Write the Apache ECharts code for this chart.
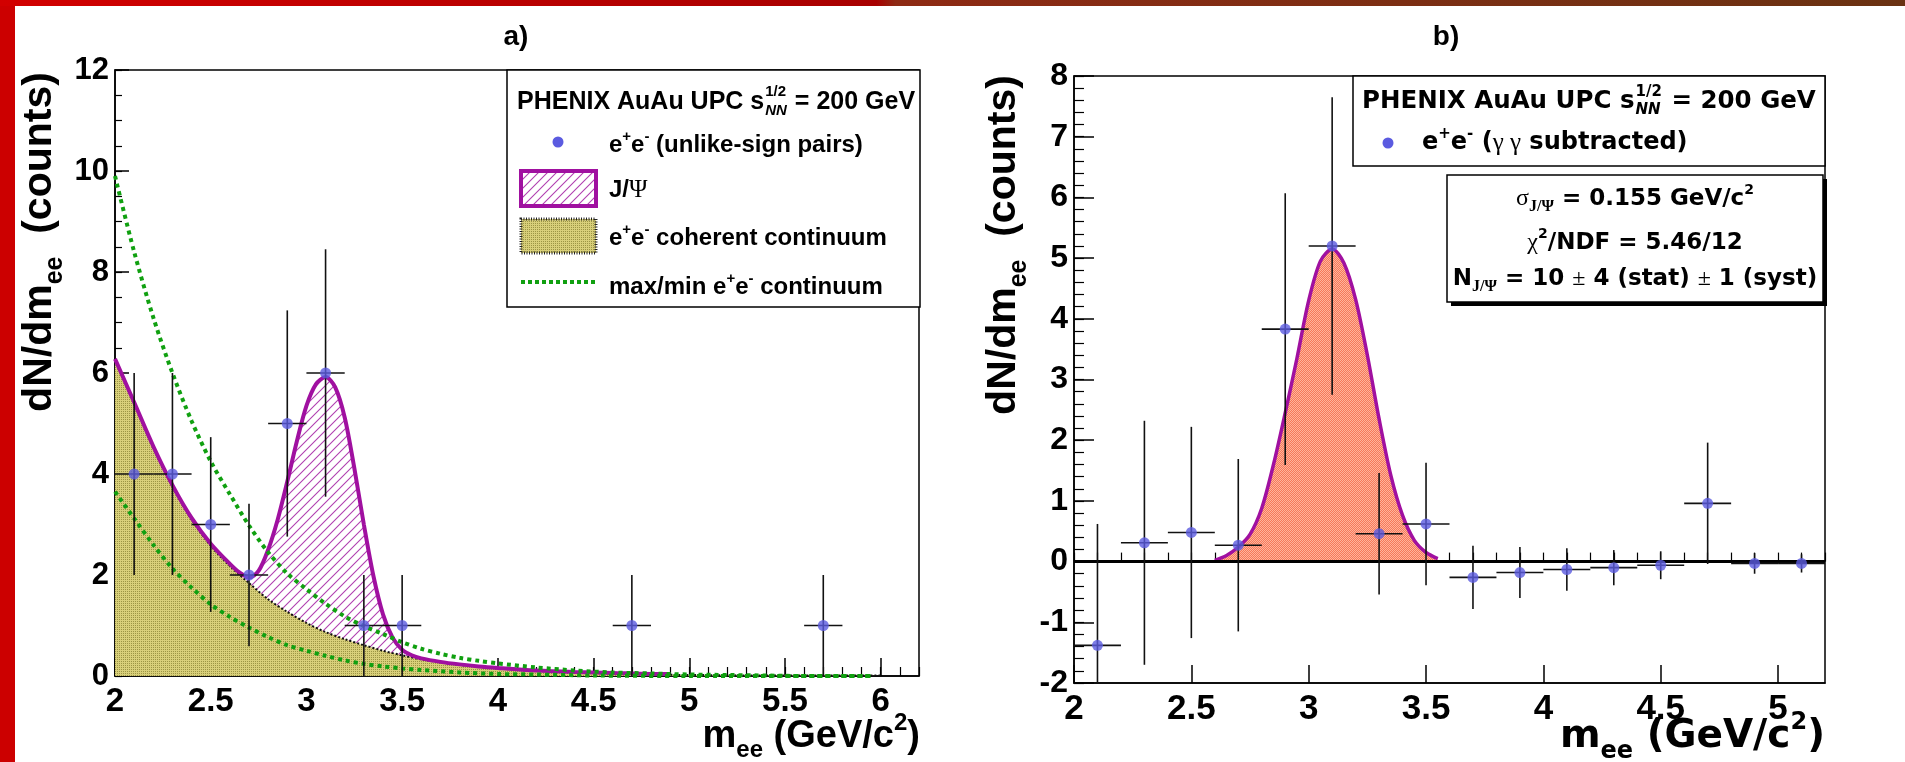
<!DOCTYPE html>
<html>
<head>
<meta charset="utf-8">
<style>
html, body { margin: 0; padding: 0; background: #fff; }
#chart { width: 1905px; height: 762px; }
</style>
<script src="https://cdn.jsdelivr.net/npm/echarts@6/dist/echarts.min.js"></script>
</head>
<body>
<div id="chart"></div>
<script>
// ---- panel a) : unlike-sign e+e- pairs ----
var aBins = [2.1, 2.3, 2.5, 2.7, 2.9, 3.1, 3.3, 3.5, 4.7, 5.7];
var aCounts = [4, 4, 3, 2, 5, 6, 1, 1, 1, 1];
var aErrors = [2, 2, 1.73, 1.41, 2.24, 2.45, 1, 1, 1, 1];

// coherent continuum
var contX = [2.0, 2.1, 2.2, 2.3, 2.4, 2.5, 2.6, 2.7, 2.8, 2.9, 3.0, 3.1, 3.2, 3.3, 3.4, 3.5, 3.6, 3.7, 3.8, 3.9, 4.0, 4.2, 4.4, 4.6, 4.8, 5.0, 5.4, 5.8, 6.0];
var contY = [6.26, 5.40, 4.52, 3.75, 3.10, 2.58, 2.18, 1.84, 1.52, 1.27, 1.05, 0.87, 0.73, 0.61, 0.50, 0.41, 0.33, 0.27, 0.22, 0.18, 0.15, 0.10, 0.07, 0.05, 0.03, 0.02, 0.01, 0.01, 0.01];

// J/psi + continuum
var jpsiX = [2.0, 2.1, 2.2, 2.3, 2.4, 2.5, 2.6, 2.65, 2.7, 2.75, 2.8, 2.85, 2.9, 2.95, 3.0, 3.05, 3.1, 3.15, 3.2, 3.25, 3.3, 3.35, 3.4, 3.45, 3.5, 3.55, 3.6, 3.7, 3.8, 3.9, 4.0, 4.2, 4.4, 4.6, 4.8, 4.9];
var jpsiY = [6.28, 5.42, 4.55, 3.78, 3.13, 2.62, 2.22, 2.05, 1.95, 2.08, 2.50, 3.10, 3.85, 4.65, 5.35, 5.78, 5.92, 5.72, 5.12, 4.12, 3.00, 1.98, 1.22, 0.76, 0.52, 0.41, 0.35, 0.28, 0.23, 0.19, 0.16, 0.11, 0.08, 0.06, 0.04, 0.04];

// max / min continuum
var maxX = [2.0, 2.1, 2.2, 2.3, 2.4, 2.5, 2.6, 2.7, 2.8, 2.9, 3.0, 3.1, 3.2, 3.3, 3.4, 3.5, 3.6, 3.7, 3.8, 3.9, 4.0, 4.2, 4.4, 4.6, 4.8, 5.0, 5.2, 5.4, 5.6, 5.95];
var maxY = [9.9, 8.4, 7.1, 6.0, 5.05, 4.25, 3.6, 2.98, 2.45, 2.03, 1.72, 1.43, 1.18, 0.99, 0.83, 0.67, 0.54, 0.44, 0.36, 0.30, 0.25, 0.17, 0.11, 0.07, 0.05, 0.03, 0.02, 0.01, 0.0, 0.0];
var minX = [2.0, 2.1, 2.2, 2.3, 2.4, 2.5, 2.6, 2.7, 2.8, 2.9, 3.0, 3.1, 3.2, 3.3, 3.4, 3.5, 3.6, 3.8, 4.0, 4.2, 4.5, 5.0, 5.95];
var minY = [3.65, 3.12, 2.60, 2.13, 1.75, 1.42, 1.17, 0.96, 0.77, 0.61, 0.50, 0.40, 0.31, 0.24, 0.19, 0.15, 0.12, 0.07, 0.04, 0.03, 0.01, 0.0, 0.0];

// ---- panel b) : gamma gamma subtracted ----
var bBins = [2.1, 2.3, 2.5, 2.7, 2.9, 3.1, 3.3, 3.5, 3.7, 3.9, 4.1, 4.3, 4.5, 4.7, 4.9, 5.1];
var bValues = [-1.38, 0.31, 0.48, 0.27, 3.83, 5.20, 0.46, 0.62, -0.26, -0.18, -0.13, -0.10, -0.06, 0.96, -0.03, -0.03];
var bErrors = [2.0, 2.01, 1.74, 1.42, 2.24, 2.45, 1.0, 1.01, 0.52, 0.42, 0.35, 0.29, 0.23, 1.0, 0.17, 0.15];

// gaussian fit
var gausX = [2.60, 2.65, 2.70, 2.75, 2.80, 2.85, 2.90, 2.95, 3.00, 3.05, 3.10, 3.15, 3.20, 3.25, 3.30, 3.35, 3.40, 3.45, 3.50, 3.55];
var gausY = [0.02, 0.10, 0.24, 0.45, 0.88, 1.60, 2.45, 3.35, 4.30, 4.95, 5.15, 4.92, 4.32, 3.40, 2.35, 1.42, 0.76, 0.35, 0.15, 0.05];

var binHalf = 0.1;

var SANS = 'Liberation Sans', WIDE = 'DejaVu Sans', SERIF = 'Liberation Serif';
var BLUE = '#5b5be0', PURPLE = '#a010a0', GREEN = '#10a010';

function zip(xs, ys) {
  return xs.map(function (x, i) { return [x, ys[i]]; });
}
function zip3(xs, ys, es) {
  return xs.map(function (x, i) { return [x, ys[i], es[i]]; });
}

// fill textures
function makePattern(w, h, draw) {
  var c = document.createElement('canvas');
  c.width = w; c.height = h;
  draw(c.getContext('2d'));
  return { image: c, repeat: 'repeat' };
}
var olivePattern = makePattern(2, 2, function (g) {
  g.fillStyle = '#d8cf7a'; g.fillRect(0, 0, 2, 2);
  g.fillStyle = '#9c9544'; g.fillRect(1, 1, 1, 1);
});
var salmonPattern = makePattern(2, 2, function (g) {
  g.fillStyle = '#f6795a'; g.fillRect(0, 0, 2, 2);
  g.fillStyle = '#ffb49c'; g.fillRect(0, 0, 1, 1); g.fillRect(1, 1, 1, 1);
});
var hatchPattern = makePattern(9, 9, function (g) {
  g.fillStyle = '#fff'; g.fillRect(0, 0, 9, 9);
  g.strokeStyle = '#b040b0'; g.lineWidth = 1.1;
  g.beginPath();
  g.moveTo(-1, 10); g.lineTo(10, -1);
  g.moveTo(-1, 1); g.lineTo(1, -1);
  g.moveTo(8, 10); g.lineTo(10, 8);
  g.stroke();
});

// axes: one axis for major ticks + labels, one for minor ticks
function xMajor(grid, max, size) {
  return {
    type: 'value', gridIndex: grid, position: 'bottom', min: 2, max: max, interval: 0.5,
    axisLine: { show: true, onZero: false, lineStyle: { color: '#000', width: 1.5 } },
    axisTick: { show: true, inside: true, length: 18, lineStyle: { color: '#000', width: 1.5 } },
    axisLabel: { show: true, margin: 9, showMaxLabel: false, color: '#000', fontFamily: SANS, fontWeight: 'bold', fontSize: size },
    splitLine: { show: false }
  };
}
function xMinor(grid, max) {
  return {
    type: 'value', gridIndex: grid, position: 'bottom', min: 2, max: max, interval: 0.1,
    axisLine: { show: false }, axisLabel: { show: false }, splitLine: { show: false },
    axisTick: { show: true, inside: true, length: 9, lineStyle: { color: '#000', width: 1.2 } }
  };
}
function yMajor(grid, min, max, interval, len, size) {
  return {
    type: 'value', gridIndex: grid, position: 'left', min: min, max: max, interval: interval,
    axisLine: { show: true, onZero: false, lineStyle: { color: '#000', width: 1.5 } },
    axisTick: { show: true, inside: true, length: len, lineStyle: { color: '#000', width: 1.5 } },
    axisLabel: { show: true, margin: 6, color: '#000', fontFamily: SANS, fontWeight: 'bold', fontSize: size },
    splitLine: { show: false }
  };
}
function yMinor(grid, min, max, interval, len) {
  return {
    type: 'value', gridIndex: grid, position: 'left', min: min, max: max, interval: interval,
    axisLine: { show: false }, axisLabel: { show: false }, splitLine: { show: false },
    axisTick: { show: true, inside: true, length: len, lineStyle: { color: '#000', width: 1.2 } }
  };
}

function errorBars(params, api) {
  var x = api.value(0), y = api.value(1), e = api.value(2);
  var lo = api.coord([x, y - e]), hi = api.coord([x, y + e]);
  var l = api.coord([x - binHalf, y]), r = api.coord([x + binHalf, y]);
  var st = { stroke: '#111', lineWidth: 1.6 };
  return {
    type: 'group',
    children: [
      { type: 'line', shape: { x1: lo[0], y1: lo[1], x2: hi[0], y2: hi[1] }, style: st },
      { type: 'line', shape: { x1: l[0], y1: l[1], x2: r[0], y2: r[1] }, style: st }
    ]
  };
}

// rich text helpers
function rich(family, size) {
  var s = Math.round(size * 0.62);
  return {
    t: { fontFamily: family, fontWeight: 'bold', fontSize: size, lineHeight: Math.round(size * 1.35), verticalAlign: 'middle' },
    sub: { fontFamily: family, fontWeight: 'bold', fontSize: s, lineHeight: s, verticalAlign: 'bottom' },
    sup: { fontFamily: family, fontWeight: 'bold', fontSize: s, lineHeight: s, verticalAlign: 'top' },
    g: { fontFamily: SERIF, fontSize: Math.round(size * 1.05), lineHeight: Math.round(size * 1.35), verticalAlign: 'middle' },
    gsub: { fontFamily: SERIF, fontWeight: 'bold', fontSize: s + 2, lineHeight: s + 2, verticalAlign: 'bottom' }
  };
}
function label(x, y, text, family, size, align, rotation) {
  return {
    type: 'text', x: x, y: y, z: 100, rotation: rotation || 0,
    style: { text: text, rich: rich(family, size), fill: '#000', align: align || 'left', verticalAlign: 'middle' }
  };
}

var measure = document.createElement('canvas').getContext('2d');
function textWidth(str, font) {
  measure.font = font;
  return measure.measureText(str).width;
}
function headerText(x, y, family, size) {
  var small = Math.round(size * 0.6);
  var lead = 'PHENIX AuAu UPC s';
  var x1 = x + textWidth(lead, 'bold ' + size + 'px "' + family + '"') + 1;
  var x2 = x1 + Math.max(textWidth('NN', 'italic bold ' + small + 'px "' + family + '"'),
                         textWidth('1/2', 'bold ' + small + 'px "' + family + '"')) + 1;
  function piece(px, py, str, sz, fstyle) {
    return { type: 'text', x: px, y: py, z: 100,
      style: { text: str, fontFamily: family, fontWeight: 'bold', fontStyle: fstyle || 'normal', fontSize: sz, fill: '#000', align: 'left', verticalAlign: 'middle' } };
  }
  return [
    piece(x, y, lead, size),
    piece(x1, y - size * 0.4, '1/2', small),
    piece(x1, y + size * 0.34, 'NN', small, 'italic'),
    piece(x2, y, ' = 200 GeV', size)
  ];
}

var graphics = [
  // slide frame
  { type: 'rect', z: 100, shape: { x: 0, y: 0, width: 15, height: 762 }, style: { fill: '#cc0000' } },
  { type: 'rect', z: 100, shape: { x: 0, y: 0, width: 1905, height: 6 },
    style: { fill: { type: 'linear', x: 0, y: 0, x2: 1, y2: 0, colorStops: [
      { offset: 0, color: '#d20000' }, { offset: 0.46, color: '#a80000' },
      { offset: 0.47, color: '#8e2a14' }, { offset: 1, color: '#6a3212' }] } } },
  // panel titles
  label(516, 37, '{t|a)}', SANS, 28, 'center'),
  label(1446, 37, '{t|b)}', SANS, 28, 'center'),
  // axis titles
  label(40, 242, '{t|dN/dm}{sub|ee}{t|  (counts)}', SANS, 41, 'center', Math.PI / 2),
  label(1004, 245, '{t|dN/dm}{sub|ee}{t|  (counts)}', SANS, 41, 'center', Math.PI / 2),
  label(920, 737, '{t|m}{sub|ee}{t| (GeV/c}{sup|2}{t|)}', SANS, 38, 'right'),
  label(1825, 737, '{t|m}{sub|ee}{t| (GeV/c}{sup|2}{t|)}', WIDE, 39, 'right'),

  // legend a)
  { type: 'rect', z: 99, shape: { x: 507, y: 70, width: 413, height: 237 }, style: { fill: '#fff', stroke: '#000', lineWidth: 1.5 } },
  { type: 'circle', z: 100, shape: { cx: 558, cy: 142, r: 5.5 }, style: { fill: BLUE } },
  label(609, 145, '{t|e}{sup|+}{t|e}{sup|-}{t| (unlike-sign pairs)}', SANS, 24),
  { type: 'rect', z: 100, shape: { x: 521, y: 171, width: 75, height: 35 }, style: { fill: hatchPattern, stroke: PURPLE, lineWidth: 4 } },
  label(609, 190, '{t|J/}{g|Ψ}', SANS, 24),
  { type: 'rect', z: 100, shape: { x: 521, y: 219, width: 75, height: 34 }, style: { fill: olivePattern, stroke: '#222', lineWidth: 3, lineDash: [1, 1.5] } },
  label(609, 238, '{t|e}{sup|+}{t|e}{sup|-}{t| coherent continuum}', SANS, 24),
  { type: 'line', z: 100, shape: { x1: 521, y1: 282, x2: 596, y2: 282 }, style: { stroke: GREEN, lineWidth: 4, lineDash: [4, 3] } },
  label(609, 287, '{t|max/min e}{sup|+}{t|e}{sup|-}{t| continuum}', SANS, 24),

  // legend b)
  { type: 'rect', z: 99, shape: { x: 1353, y: 76, width: 472, height: 90 }, style: { fill: '#fff', stroke: '#000', lineWidth: 1.5 } },
  { type: 'circle', z: 100, shape: { cx: 1388, cy: 143, r: 5.5 }, style: { fill: BLUE } },
  label(1422, 143, '{t|e}{sup|+}{t|e}{sup|-}{t| (}{g|γ γ}{t| subtracted)}', WIDE, 24),

  // fit box b)
  { type: 'rect', z: 98, shape: { x: 1451, y: 179, width: 376, height: 127 }, style: { fill: '#000' } },
  { type: 'rect', z: 99, shape: { x: 1447, y: 175, width: 376, height: 127 }, style: { fill: '#fff', stroke: '#000', lineWidth: 1.5 } },
  label(1635, 199, '{g|σ}{gsub|J/Ψ}{t| = 0.155 GeV/c}{sup|2}', WIDE, 23, 'center'),
  label(1635, 243, '{g|χ}{sup|2}{t|/NDF = 5.46/12}', WIDE, 23, 'center'),
  label(1635, 279, '{t|N}{gsub|J/Ψ}{t| = 10 }{g|±}{t| 4 (stat) }{g|±}{t| 1 (syst)}', WIDE, 23, 'center')
].concat(headerText(517, 102, SANS, 25), headerText(1362, 102, WIDE, 24.5));

var chart = echarts.init(document.getElementById('chart'));

var option = {
  animation: false,
  backgroundColor: '#fff',
  textStyle: { fontFamily: SANS },
  grid: [
    { left: 115, top: 70, width: 804, height: 606, show: true, borderColor: '#000', borderWidth: 1.5, outerBoundsMode: 'none' },
    { left: 1074, top: 76, width: 751, height: 607, show: true, borderColor: '#000', borderWidth: 1.5, outerBoundsMode: 'none' }
  ],
  xAxis: [xMajor(0, 6.2, 33), xMinor(0, 6.2), xMajor(1, 5.2, 35), xMinor(1, 5.2)],
  yAxis: [yMajor(0, 0, 12, 2, 14, 31), yMinor(0, 0, 12, 0.5, 7), yMajor(1, -2, 8, 1, 20, 32), yMinor(1, -2, 8, 0.2, 10)],
  series: [
    // a) J/psi hatched region (lower part covered by continuum)
    { name: 'J/Ψ area', type: 'line', xAxisIndex: 0, yAxisIndex: 0, z: 2, smooth: 0.3, showSymbol: false,
      data: zip(jpsiX, jpsiY), lineStyle: { width: 0 }, areaStyle: { color: hatchPattern, opacity: 1 } },
    { name: 'e+e- coherent continuum', type: 'line', xAxisIndex: 0, yAxisIndex: 0, z: 3, smooth: 0.3, showSymbol: false,
      data: zip(contX, contY), lineStyle: { color: '#111', width: 2, type: 'dotted' }, areaStyle: { color: olivePattern, opacity: 1 } },
    { name: 'J/Ψ', type: 'line', xAxisIndex: 0, yAxisIndex: 0, z: 4, smooth: 0.3, showSymbol: false,
      data: zip(jpsiX, jpsiY), lineStyle: { color: PURPLE, width: 4 } },
    { name: 'max continuum', type: 'line', xAxisIndex: 0, yAxisIndex: 0, z: 5, smooth: 0.3, showSymbol: false,
      data: zip(maxX, maxY), lineStyle: { color: GREEN, width: 4, type: [4, 4] } },
    { name: 'min continuum', type: 'line', xAxisIndex: 0, yAxisIndex: 0, z: 5, smooth: 0.3, showSymbol: false,
      data: zip(minX, minY), lineStyle: { color: GREEN, width: 4, type: [4, 4] } },
    { name: 'a errors', type: 'custom', xAxisIndex: 0, yAxisIndex: 0, z: 6, clip: true,
      data: zip3(aBins, aCounts, aErrors), encode: { x: 0, y: 1 }, renderItem: errorBars },
    { name: 'e+e- (unlike-sign pairs)', type: 'scatter', xAxisIndex: 0, yAxisIndex: 0, z: 7,
      data: zip(aBins, aCounts), symbolSize: 11, itemStyle: { color: BLUE } },

    // b)
    { name: 'J/Ψ fit', type: 'line', xAxisIndex: 2, yAxisIndex: 2, z: 3, smooth: 0.3, showSymbol: false,
      data: zip(gausX, gausY), lineStyle: { color: PURPLE, width: 3.5 }, areaStyle: { color: salmonPattern, opacity: 1 },
      markLine: { silent: true, symbol: ['none', 'none'], label: { show: false },
        lineStyle: { color: '#000', width: 3, type: 'solid' }, data: [{ yAxis: 0 }] } },
    { name: 'b errors', type: 'custom', xAxisIndex: 2, yAxisIndex: 2, z: 6, clip: true,
      data: zip3(bBins, bValues, bErrors), encode: { x: 0, y: 1 }, renderItem: errorBars },
    { name: 'e+e- (γ γ subtracted)', type: 'scatter', xAxisIndex: 2, yAxisIndex: 2, z: 7,
      data: zip(bBins, bValues), symbolSize: 11, itemStyle: { color: BLUE } }
  ],
  graphic: graphics
};

chart.setOption(option);
</script>
</body>
</html>
